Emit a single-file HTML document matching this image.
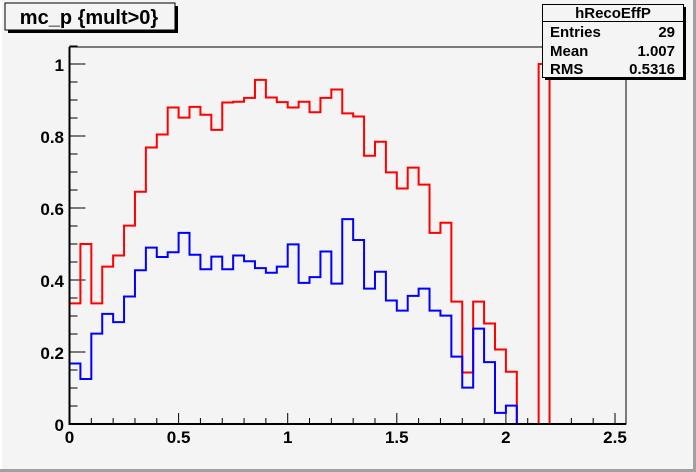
<!DOCTYPE html>
<html><head><style>
body{margin:0;background:#f4f4f4;}
svg{display:block;font-family:"Liberation Sans",Arial,sans-serif;font-weight:bold;}
</style></head><body>
<svg id="s" width="696" height="472" viewBox="0 0 696 472" xmlns="http://www.w3.org/2000/svg">
<rect x="0" y="0" width="696" height="472" fill="#f4f4f4"/>
<line x1="1" y1="1" x2="1" y2="470" stroke="#fff" stroke-width="2"/>
<line x1="0" y1="470.5" x2="696" y2="470.5" stroke="#a0a0a0" stroke-width="3"/>
<line x1="694.5" y1="0" x2="694.5" y2="472" stroke="#a0a0a0" stroke-width="3"/>
<rect x="69.5" y="47" width="556.5" height="377" fill="#f4f4f4" stroke="#000" stroke-width="1"/>
<g id="ticks" stroke="#000" stroke-width="1"></g>
<path id="red" fill="none" stroke="#ff0000" stroke-width="2"/>
<path id="blue" fill="none" stroke="#0000ff" stroke-width="2"/>
<line x1="69.5" y1="47" x2="69.5" y2="425" stroke="#000" stroke-width="2"/>
<line x1="68.5" y1="424" x2="626" y2="424" stroke="#000" stroke-width="2"/>
<g font-size="17" text-anchor="end" fill="#000">
<text x="64" y="431">0</text>
<text x="64" y="359">0.2</text>
<text x="64" y="287">0.4</text>
<text x="64" y="215">0.6</text>
<text x="64" y="143">0.8</text>
<text x="64" y="71">1</text>
</g>
<g font-size="17" text-anchor="middle" fill="#000">
<text x="69.5" y="443">0</text>
<text x="178.6" y="443">0.5</text>
<text x="287.7" y="443">1</text>
<text x="396.8" y="443">1.5</text>
<text x="505.9" y="443">2</text>
<text x="615" y="443">2.5</text>
</g>
<rect x="8" y="6" width="170" height="27" fill="#000"/>
<rect x="5" y="3" width="170" height="27" fill="#f4f4f4" stroke="#000" stroke-width="1"/>
<text x="89" y="24" font-size="20" text-anchor="middle">mc_p {mult&gt;0}</text>
<rect x="545" y="7" width="141" height="73" fill="#000"/>
<rect x="542.5" y="4.5" width="141" height="73" fill="#f4f4f4" stroke="#000" stroke-width="1"/>
<line x1="542.5" y1="21.5" x2="683.5" y2="21.5" stroke="#000"/>
<g font-size="15" fill="#000">
<text x="613" y="18" text-anchor="middle">hRecoEffP</text>
<text x="550" y="37">Entries</text><text x="675" y="37" text-anchor="end">29</text>
<text x="550" y="56">Mean</text><text x="675" y="56" text-anchor="end">1.007</text>
<text x="550" y="74">RMS</text><text x="675" y="74" text-anchor="end">0.5316</text>
</g>
</svg>
<script>
var X0=69.5,BW=10.91,Y0=424,SY=360;
function X(i){return X0+i*BW;} function Y(v){return Y0-SY*v;}
var red=[0.335,0.5,0.335,0.437,0.468,0.551,0.645,0.768,0.804,0.879,0.851,0.881,0.859,0.817,0.893,0.895,0.906,0.956,0.907,0.894,0.879,0.895,0.866,0.906,0.929,0.863,0.854,0.745,0.784,0.699,0.654,0.712,0.665,0.531,0.559,0.340,0.143,0.340,0.279,0.207,0.145,0,0,1.0,0,0,0,0,0,0,0];
var blue=[0.168,0.125,0.251,0.306,0.283,0.354,0.427,0.490,0.464,0.477,0.531,0.470,0.430,0.465,0.430,0.468,0.452,0.433,0.420,0.437,0.499,0.392,0.408,0.479,0.390,0.569,0.511,0.376,0.423,0.343,0.315,0.356,0.376,0.315,0.301,0.187,0.101,0.265,0.172,0.031,0.051,0,0,0,0,0,0,0,0,0,0];
function path(a){var d="M"+X(0)+" "+Y(a[0]);for(var i=0;i<a.length;i++){if(i>0)d+=" L"+X(i).toFixed(2)+" "+Y(a[i]).toFixed(2);d+=" L"+X(i+1).toFixed(2)+" "+Y(a[i]).toFixed(2);}return d;}
document.getElementById("red").setAttribute("d",path(red));
document.getElementById("blue").setAttribute("d",path(blue));
var g=document.getElementById("ticks"),h="";
for(var k=0;k<=21;k++){var y=Y(k*0.05);var L=(k%4==0)?16:8;h+='<line x1="69.5" y1="'+y+'" x2="'+(69.5+L)+'" y2="'+y+'"/>';}
for(var k=0;k<=25;k++){var x=X0+k*0.1*218.2;var L=(k%5==0)?11:6;h+='<line x1="'+x+'" y1="424" x2="'+x+'" y2="'+(424-L)+'"/>';}
g.innerHTML=h;
</script>
</body></html>
